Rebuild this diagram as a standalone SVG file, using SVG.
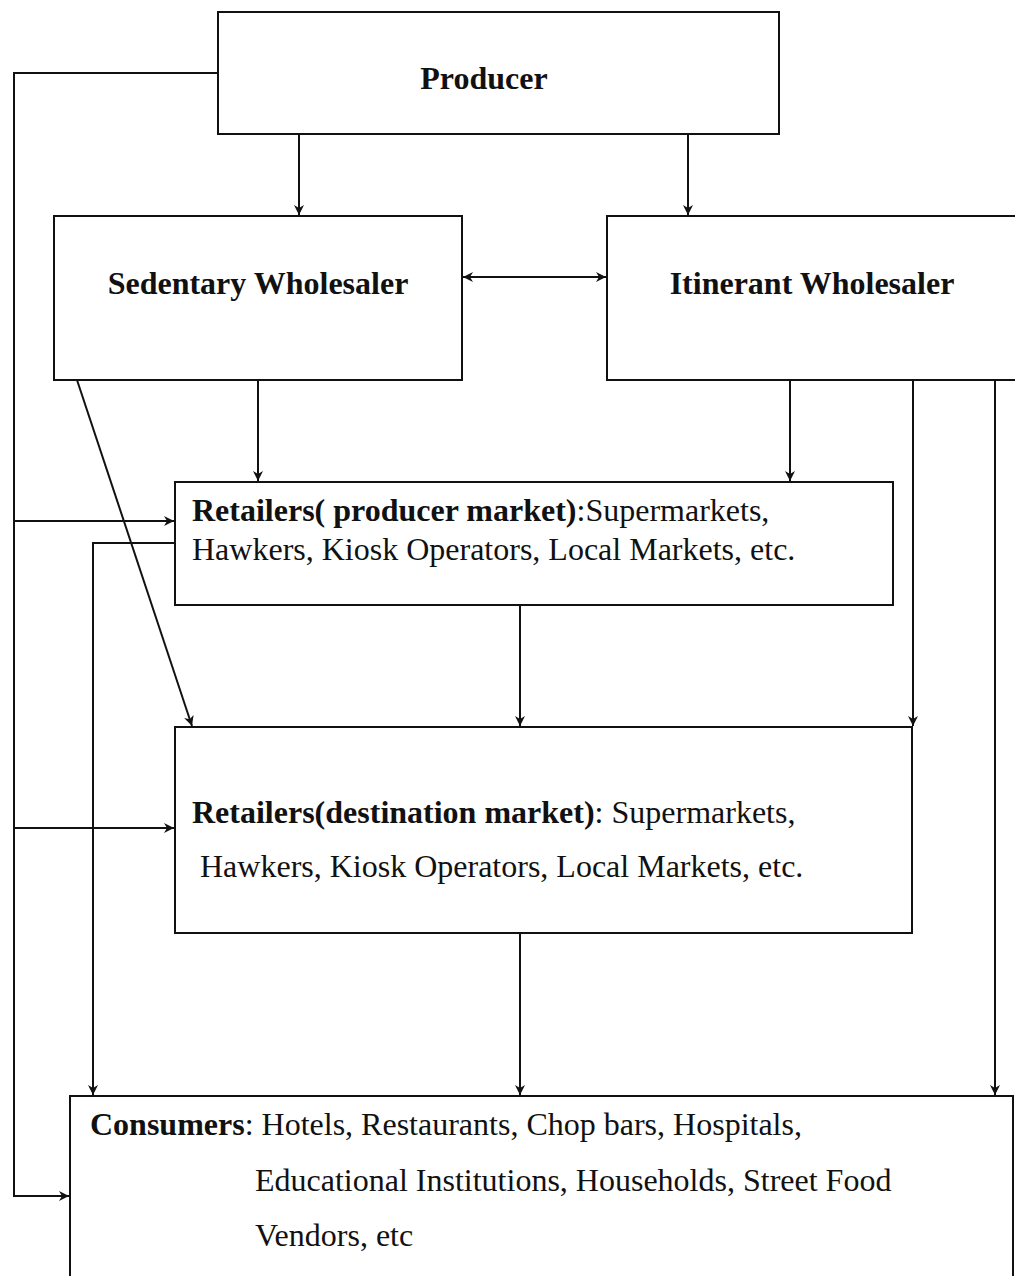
<svg xmlns="http://www.w3.org/2000/svg" width="1015" height="1276" viewBox="0 0 1015 1276">
<defs>
<style>
.box{fill:#fff;stroke:#111;stroke-width:2}
.ln{fill:none;stroke:#111;stroke-width:2}
.t{font-family:"Liberation Serif","Times New Roman",serif;font-size:32px;fill:#111}
.b{font-weight:bold}
</style>
<marker id="ah" markerUnits="userSpaceOnUse" markerWidth="12" markerHeight="12" refX="10" refY="5" orient="auto-start-reverse" viewBox="0 0 12 10">
<path d="M0,0 L10,5 L0,10 L3,5 Z" fill="#111"/>
</marker>
</defs>
<rect width="1015" height="1276" fill="#fff"/>
<g id="connectors">
<polyline class="ln" points="218,73 14,73 14,1196 69,1196" marker-end="url(#ah)"/>
<line class="ln" x1="14" y1="521" x2="174" y2="521" marker-end="url(#ah)"/>
<line class="ln" x1="14" y1="828" x2="174" y2="828" marker-end="url(#ah)"/>
<line class="ln" x1="299" y1="134" x2="299" y2="215" marker-end="url(#ah)"/>
<line class="ln" x1="688" y1="134" x2="688" y2="215" marker-end="url(#ah)"/>
<line class="ln" x1="463" y1="277" x2="606" y2="277" marker-start="url(#ah)" marker-end="url(#ah)"/>
<line class="ln" x1="258" y1="380" x2="258" y2="481" marker-end="url(#ah)"/>
<line class="ln" x1="790" y1="380" x2="790" y2="481" marker-end="url(#ah)"/>
<line class="ln" x1="77" y1="380" x2="192" y2="726" marker-end="url(#ah)"/>
<polyline class="ln" points="175,543 93,543 93,1095" marker-end="url(#ah)"/>
<line class="ln" x1="520" y1="605" x2="520" y2="726" marker-end="url(#ah)"/>
<line class="ln" x1="913" y1="380" x2="913" y2="726" marker-end="url(#ah)"/>
<line class="ln" x1="995" y1="380" x2="995" y2="1095" marker-end="url(#ah)"/>
<line class="ln" x1="520" y1="933" x2="520" y2="1095" marker-end="url(#ah)"/>
</g>
<g id="producer">
<rect class="box" x="218" y="12" width="561" height="122"/>
<text class="t b" x="484" y="89" text-anchor="middle">Producer</text>
</g>
<g id="sedentary">
<rect class="box" x="54" y="216" width="408" height="164"/>
<text class="t b" x="258" y="294" text-anchor="middle">Sedentary Wholesaler</text>
</g>
<g id="itinerant">
<rect class="box" x="607" y="216" width="420" height="164"/>
<text class="t b" x="812" y="294" text-anchor="middle">Itinerant Wholesaler</text>
</g>
<g id="retail-producer">
<rect class="box" x="175" y="482" width="718" height="123"/>
<text class="t" x="192" y="521"><tspan class="b">Retailers( producer market)</tspan>:Supermarkets,</text>
<text class="t" x="192" y="560">Hawkers, Kiosk Operators, Local Markets, etc.</text>
</g>
<g id="retail-destination">
<rect class="box" x="175" y="727" width="737" height="206"/>
<text class="t" x="192" y="823"><tspan class="b">Retailers(destination market)</tspan>: Supermarkets,</text>
<text class="t" x="200" y="877">Hawkers, Kiosk Operators, Local Markets, etc.</text>
</g>
<g id="consumers">
<rect class="box" x="70" y="1096" width="943" height="200"/>
<text class="t" x="90" y="1135"><tspan class="b">Consumers</tspan>: Hotels, Restaurants, Chop bars, Hospitals,</text>
<text class="t" x="255" y="1191">Educational Institutions, Households, Street Food</text>
<text class="t" x="255" y="1246">Vendors, etc</text>
</g>
</svg>
